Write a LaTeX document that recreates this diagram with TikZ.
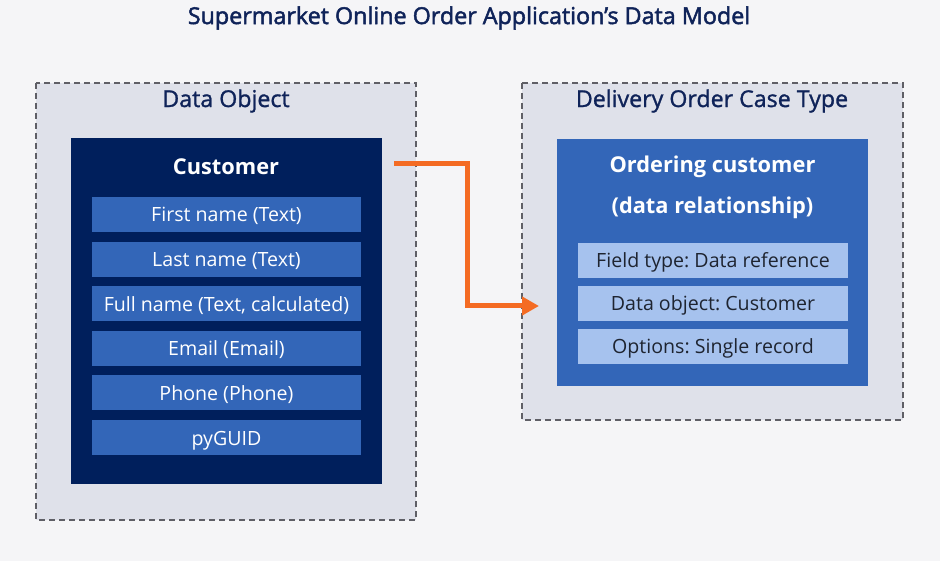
\documentclass[tikz,border=0pt]{standalone}
\usepackage{fontspec}
\setmainfont{Open Sans}
\frenchspacing
\usetikzlibrary{arrows.meta}
\definecolor{bg}{HTML}{F5F5F7}
\definecolor{grpfill}{HTML}{DFE1EA}
\definecolor{grpline}{HTML}{5F5F66}
\definecolor{navy}{HTML}{001F5C}
\definecolor{midblue}{HTML}{3366B8}
\definecolor{lightblue}{HTML}{A6C2EE}
\definecolor{titlec}{HTML}{0F2359}
\definecolor{arrowc}{HTML}{F46B23}
\definecolor{darktext}{HTML}{1E2430}
\tikzset{
  grp/.style={draw=grpline, fill=grpfill, line width=2pt, dash pattern=on 6pt off 4pt},
  grptitle/.style={text=titlec, font=\fontsize{23.2}{28}\selectfont\addfontfeature{FakeBold=1.2}, anchor=center},
  darkbox/.style={fill=navy},
  bluebox/.style={fill=midblue},
  rowtext/.style={font=\fontsize{19.6}{23}\selectfont, text height=19pt, text depth=4pt, minimum height=35pt, inner sep=0pt},
  fieldrow/.style={rowtext, fill=midblue, text=white},
  lightrow/.style={rowtext, fill=lightblue, text=darktext},
  boxtitle/.style={text=white, font=\bfseries\fontsize{21.8}{26}\selectfont},
  link/.style={draw=arrowc, line width=5pt, -{Triangle[length=17pt,width=18pt]}}
}
\begin{document}
\begin{tikzpicture}[x=1pt,y=-1pt]
\fill[bg] (0,0) rectangle (940,561);
\useasboundingbox (0,0) rectangle (940,561);
\node[text=titlec, font=\fontsize{23.3}{28}\selectfont\addfontfeature{FakeBold=2}] (title) at (469,18) {Supermarket Online Order Application’s Data Model};
% left group
\draw[grp] (36,83) rectangle (416,520);
\node[grptitle] (lgt) at (226,101) {Data Object};
\fill[darkbox] (71,138) rectangle (382,484);
\node[boxtitle] (cust) at (226,167) {Customer};
\foreach \i/\t in {0/First name (Text),1/Last name (Text),2/{Full name (Text, calculated)},3/Email (Email),4/Phone (Phone),5/pyGUID}{
  \node[fieldrow, minimum width=269pt] (f\i) at (226.5,{214.5+\i*44.6}) {\t};
}
% right group
\draw[grp] (522,83) rectangle (903,420);
\node[grptitle] (rgt) at (712,101) {Delivery Order Case Type};
\fill[bluebox] (557,139) rectangle (868,386);
\node[boxtitle] (oc1) at (712.5,167) {Ordering customer};
\node[boxtitle] (oc2) at (712.5,208) {(data relationship)};
\foreach \i/\t in {0/Field type: Data reference,1/Data object: Customer,2/Options: Single record}{
  \node[lightrow, minimum width=270pt] (r\i) at (713,{260.5+\i*43}) {\t};
}
\coordinate (as) at (394,164);
\coordinate (ae) at (539,306);
\draw[link] (as) -- (467,164) -- (467,306) -- (ae);
\end{tikzpicture}
\end{document}
